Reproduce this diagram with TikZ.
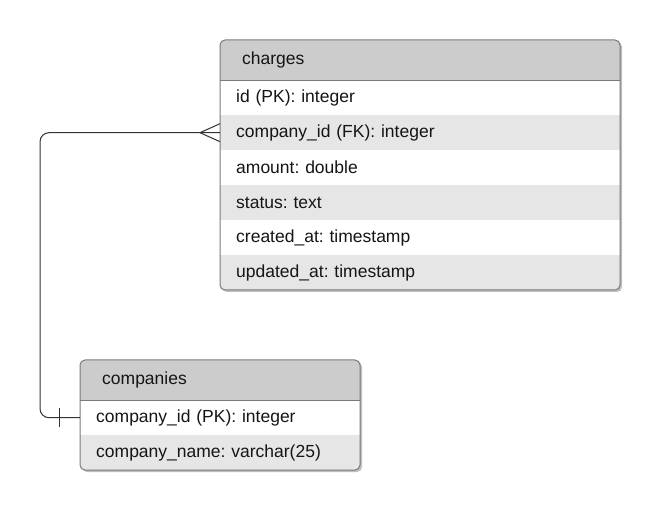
\documentclass[tikz,border=0pt]{standalone}
\usepackage{fontspec}
\setmainfont{Liberation Sans}
\usetikzlibrary{calc}
\frenchspacing
\definecolor{hdr}{HTML}{CCCCCC}
\definecolor{alt}{HTML}{E6E6E6}
\definecolor{bord}{HTML}{7A7A7A}
\definecolor{ink}{HTML}{151515}
\definecolor{wire}{HTML}{333333}
\tikzset{
  x=1pt, y=-1pt,
  every node/.style={font=\fontsize{17.5}{20}\selectfont\frenchspacing, text=ink},
  rowbox/.style={anchor=north west, minimum height=35pt, inner ysep=0pt, inner xsep=16pt, align=left, text width=#1-32pt, draw=none},
  hdrbox/.style={anchor=north west, minimum height=40pt, inner ysep=0pt, inner xsep=22pt, align=left, text width=#1-44pt, fill=hdr, draw=none},
  tableframe/.style={draw=bord, line width=1pt, rounded corners=5pt},
  wireline/.style={draw=wire, line width=1pt},
}
\begin{document}
\begin{tikzpicture}
\useasboundingbox[fill=white] (0,0) rectangle (661,510);
% shadows
\fill[black!25, rounded corners=5pt] (222,42) rectangle (622,292);
\fill[black!25, rounded corners=5pt] (82,362) rectangle (362,472);
% charges table
\begin{scope}
\clip[rounded corners=5pt] (220,40) rectangle (620,290);
\node[hdrbox=400pt] (ch) at (220,40) {charges};
\node[rowbox=400pt, fill=white] (chid) at (220,80) {id (PK): integer};
\node[rowbox=400pt, fill=alt] (chfk) at (220,115) {company\_id (FK): integer};
\node[rowbox=400pt, fill=white] (cham) at (220,150) {amount: double};
\node[rowbox=400pt, fill=alt] (chst) at (220,185) {status: text};
\node[rowbox=400pt, fill=white] (chca) at (220,220) {created\_at: timestamp};
\node[rowbox=400pt, fill=alt] (chua) at (220,255) {updated\_at: timestamp};
\end{scope}
\draw[tableframe] (220,40) rectangle (620,290);
\draw[draw=bord, line width=1pt] (ch.south west) -- (ch.south east);
% companies table
\begin{scope}
\clip[rounded corners=5pt] (80,360) rectangle (360,470);
\node[hdrbox=280pt] (co) at (80,360) {companies};
\node[rowbox=280pt, fill=white] (copk) at (80,400) {company\_id (PK): integer};
\node[rowbox=280pt, fill=alt] (conm) at (80,435) {company\_name: varchar(25)};
\end{scope}
\draw[tableframe] (80,360) rectangle (360,470);
\draw[draw=bord, line width=1pt] (co.south west) -- (co.south east);
% connector
\coordinate (bend) at ($(copk.west)+(-40,0)$);
\draw[wireline, rounded corners=9pt] (chfk.west) -| (bend) -- (copk.west);
% crow's foot (many)
\draw[wireline] ($(chfk.west)+(0,-9)$) -- ($(chfk.west)+(-20,0)$) -- ($(chfk.west)+(0,9)$);
% bar (one)
\draw[wireline] ($(copk.west)+(-21,-9.5)$) -- ($(copk.west)+(-21,9.5)$);
\end{tikzpicture}
\end{document}
